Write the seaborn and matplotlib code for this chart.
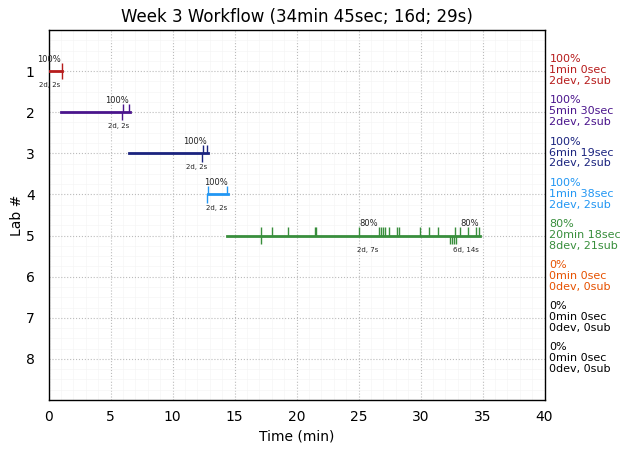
"""Workflow timeline per lab."""

import matplotlib
matplotlib.use("Agg")
import matplotlib.pyplot as plt
import numpy as np
import pandas as pd
import seaborn as sns

labs = [1, 2, 3, 4, 5, 6, 7, 8]
colors = ["#b71c1c", "#4a148c", "#1a237e", "#2196f3", "#388e3c", "#e65100", "black", "black"]
starts = [0.0, 1.0, 6.5, 12.85, 14.4]
ends = [1.05, 6.55, 12.85, 14.5, 34.8]

up_ticks = [
    [1.07],
    [6.03, 6.52],
    [12.49, 12.81],
    [12.89, 14.42],
    [17.16, 18.05, 19.34, 21.47, 21.6, 25.07, 26.65, 26.79, 26.95, 27.16, 27.49,
     28.08, 28.29, 29.93, 30.66, 31.44, 32.81, 33.2, 33.86, 34.48, 34.74],
]
down_ticks = [
    [1.07],
    [5.95],
    [12.4],
    [12.81],
    [17.16, 32.38, 32.54, 32.7, 32.84],
]

# lab, x, upper label, lower label
note_labs = [1, 2, 3, 4, 5, 5]
note_x = [0.05, 5.55, 11.8, 13.5, 25.85, 33.95]
note_sub_x = [0.1, 5.65, 11.95, 13.55, 25.75, 33.65]
note_top = ["100%", "100%", "100%", "100%", "80%", "80%"]
note_bottom = ["2d, 2s", "2d, 2s", "2d, 2s", "2d, 2s", "2d, 7s", "6d, 14s"]

side_pct = ["100%", "100%", "100%", "100%", "80%", "0%", "0%", "0%"]
side_time = ["1min 0sec", "5min 30sec", "6min 19sec", "1min 38sec", "20min 18sec",
             "0min 0sec", "0min 0sec", "0min 0sec"]
side_count = ["2dev, 2sub", "2dev, 2sub", "2dev, 2sub", "2dev, 2sub", "8dev, 21sub",
              "0dev, 0sub", "0dev, 0sub", "0dev, 0sub"]

sns.set_style("white")
plt.rcParams["text.color"] = "black"
plt.rcParams["axes.labelcolor"] = "black"
plt.rcParams["xtick.color"] = "black"
plt.rcParams["ytick.color"] = "black"
fig, ax = plt.subplots(figsize=(6.3, 4.53), dpi=100)

# Gantt lines
for i in range(len(starts)):
    df = pd.DataFrame({"time": [starts[i], ends[i]], "lab": [labs[i], labs[i]]})
    sns.lineplot(data=df, x="time", y="lab", color=colors[i], linewidth=2,
                 solid_capstyle="projecting", ax=ax, zorder=3, errorbar=None,
                 sort=False, estimator=None)
    ax.vlines(up_ticks[i], labs[i] - 0.2, labs[i], color=colors[i], linewidth=1, zorder=3)
    ax.vlines(down_ticks[i], labs[i], labs[i] + 0.2, color=colors[i], linewidth=1, zorder=3)

for lab, x, x2, top, bottom in zip(note_labs, note_x, note_sub_x, note_top, note_bottom):
    ax.text(x, lab - 0.29, top, fontsize=6, ha="center", va="center", color="#222222")
    ax.text(x2, lab + 0.34, bottom, fontsize=5, ha="center", va="center", color="#222222")

for i, lab in enumerate(labs):
    label = f"{side_pct[i]}\n{side_time[i]}\n{side_count[i]}"
    ax.text(40.4, lab - 0.02, label, fontsize=8, color=colors[i], ha="left", va="center",
            linespacing=1.12, clip_on=False)

ax.set_xlim(0, 40)
ax.set_ylim(9, 0)
ax.set_xticks(np.arange(0, 41, 5))
ax.set_yticks(labs)
ax.set_xticks(np.arange(0, 41, 1), minor=True)
ax.set_yticks(np.arange(0, 9.01, 0.25), minor=True)
ax.grid(True, which="major", color="#bbbbbb", linestyle=":", linewidth=0.8)
ax.grid(True, which="minor", color="#f5f5f5", linestyle="-", linewidth=0.5)
ax.set_axisbelow(True)
ax.tick_params(axis="both", which="both", length=0)
ax.tick_params(axis="x", labelsize=10, pad=7)
ax.tick_params(axis="y", labelsize=10, pad=10)
for spine in ax.spines.values():
    spine.set_color("black")
    spine.set_linewidth(1)

ax.set_title("Week 3 Workflow (34min 45sec; 16d; 29s)", fontsize=12)
ax.set_xlabel("Time (min)", fontsize=10)
ax.set_ylabel("Lab #", fontsize=10, labelpad=1)

fig.subplots_adjust(left=48.5 / 630, right=544.5 / 630, top=1 - 30 / 453, bottom=1 - 400 / 453)
fig.savefig("out.png", dpi=100)
